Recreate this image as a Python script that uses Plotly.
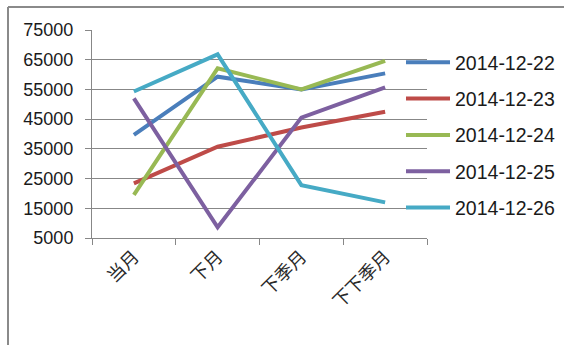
import plotly.graph_objects as go

# Contract months on the category axis
categories = ["当月", "下月", "下季月", "下下季月"]

# Prices by trading date
dates = ["2014-12-22", "2014-12-23", "2014-12-24", "2014-12-25", "2014-12-26"]
s_1222 = [39700, 59300, 55000, 60400]
s_1223 = [23400, 35700, 42200, 47500]
s_1224 = [19500, 62100, 55000, 64600]
s_1225 = [52000, 8600, 45500, 55700]
s_1226 = [54300, 66800, 22800, 17000]
series = [s_1222, s_1223, s_1224, s_1225, s_1226]

y_ticks = [5000, 15000, 25000, 35000, 45000, 55000, 65000, 75000]

colors = ["#4A7EBB", "#BE4B48", "#98B954", "#7D60A0", "#46AAC5"]
grid = "#878787"

W, H = 564, 345
L, R, T, B = 92, 564 - 427, 30, 345 - 238
pw, ph = W - L - R, H - T - B


def px_x(x):
    return (x - L) / pw


def px_y(y):
    return (H - B - y) / ph


fig = go.Figure()
for name, vals, c in zip(dates, series, colors):
    fig.add_trace(go.Scatter(
        x=categories, y=vals, name=name, mode="lines",
        line=dict(color=c, width=4), legendgroup=name,
    ))

# Frame around the chart object (left and top edges)
frame = dict(color="#8A8A8A", width=2)
fig.add_shape(type="line", xref="paper", yref="paper",
              x0=px_x(8), x1=px_x(W + 5), y0=px_y(7), y1=px_y(7), line=frame)
fig.add_shape(type="line", xref="paper", yref="paper",
              x0=px_x(8), x1=px_x(8), y0=px_y(7), y1=px_y(H + 5), line=frame)

fig.update_layout(
    width=W, height=H,
    margin=dict(l=L, r=R, t=T, b=B, autoexpand=False),
    paper_bgcolor="white", plot_bgcolor="white",
    showlegend=True,
    legend=dict(
        x=px_x(401), xanchor="left", y=px_y(43), yanchor="top",
        font=dict(family="Liberation Sans", size=19.5, color="#1a1a1a"),
        tracegroupgap=8, itemwidth=44, bgcolor="rgba(0,0,0,0)",
    ),
    xaxis=dict(
        type="category", range=[-0.5, 3.5],
        showgrid=False, showline=True, linecolor=grid, linewidth=1,
        ticks="outside", tickson="boundaries", ticklen=6, tickcolor=grid,
        tickangle=-45,
        tickfont=dict(family="Noto Sans CJK SC", size=18, color="#2a2a2a"),
    ),
    yaxis=dict(
        range=[5000, 75000], tickvals=y_ticks,
        ticktext=[str(v) for v in y_ticks],
        showgrid=True, gridcolor=grid, gridwidth=1,
        showline=True, linecolor=grid, linewidth=1,
        ticks="outside", ticklen=6, tickcolor=grid,
        ticklabelstandoff=8,
        tickfont=dict(family="Liberation Sans", size=18, color="#1a1a1a"),
        zeroline=False,
    ),
)

fig.write_html("out.html")
